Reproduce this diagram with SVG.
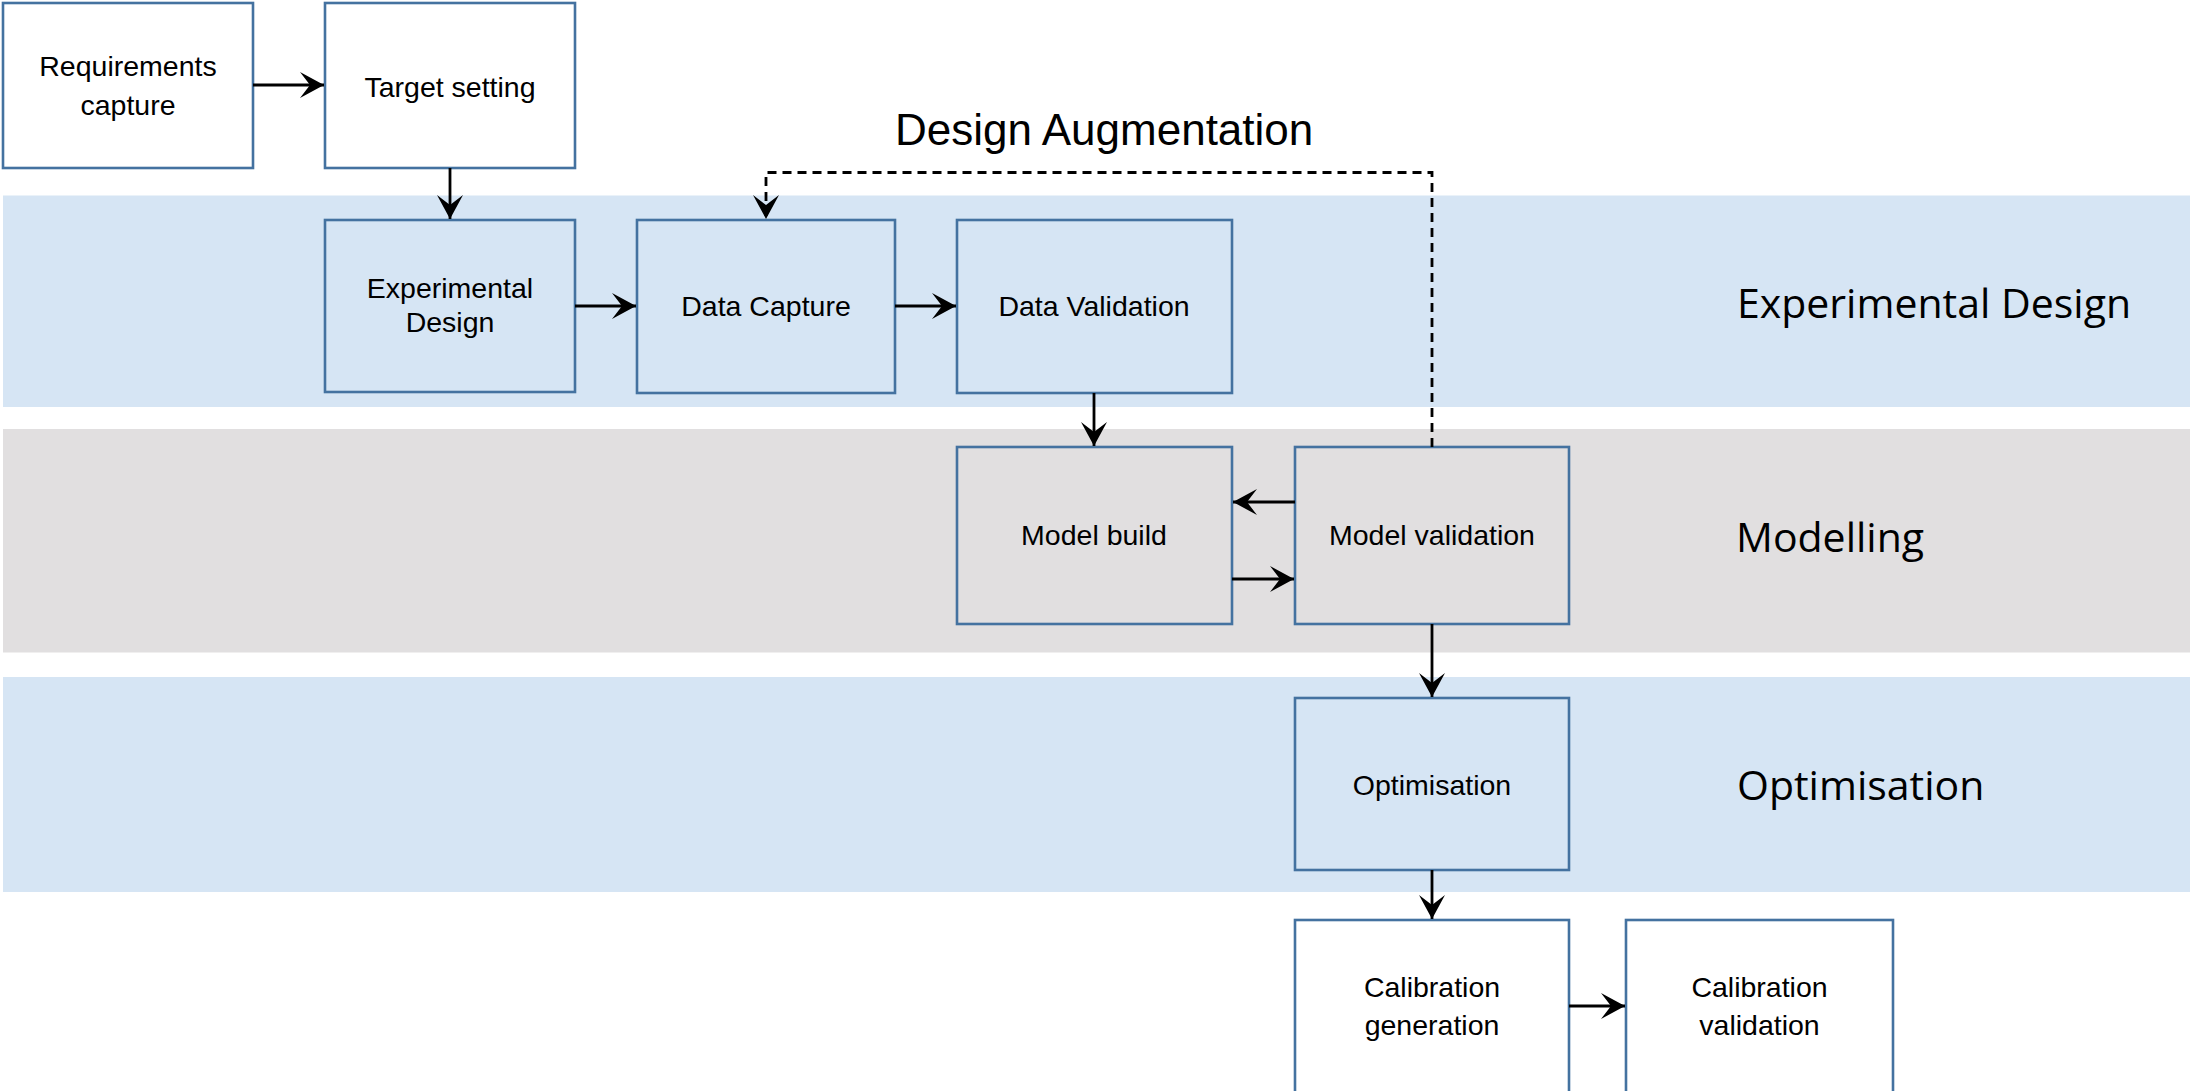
<svg xmlns="http://www.w3.org/2000/svg" width="2190" height="1091" viewBox="0 0 2190 1091">
<style>
.band-blue{fill:#D6E5F4}
.band-gray{fill:#E1DFE0}
.box{stroke:#4472A0;stroke-width:2.6}
.white{fill:#FFFFFF}
.blue{fill:#D6E5F4}
.gray{fill:#E1DFE0}
.t{font-family:"Liberation Sans",Arial,sans-serif;font-size:28.5px;fill:#000;text-anchor:middle}
.lane{font-family:"Open Sans","Liberation Sans",sans-serif;font-size:41px;fill:#000}
.conn{stroke:#000;stroke-width:2.8;fill:none}
.dash{stroke-dasharray:9,6}
</style>
<defs>
<marker id="arr" markerUnits="userSpaceOnUse" markerWidth="26" markerHeight="28" refX="24" refY="13" orient="auto" viewBox="0 0 26 28">
<path d="M0,0 L24,13 L0,26 L10,13 z" fill="#000"/>
</marker>
</defs>
<rect x="0" y="0" width="2190" height="1091" fill="#FFFFFF"/>
<g id="lanes">
<rect class="band-blue" x="3" y="195.5" width="2187" height="211.5"/>
<rect class="band-gray" x="3" y="429" width="2187" height="223.5"/>
<rect class="band-blue" x="3" y="677" width="2187" height="215"/>
<text class="lane" x="1737" y="318">Experimental Design</text>
<text class="lane" x="1736" y="552">Modelling</text>
<text class="lane" x="1737" y="800">Optimisation</text>
</g>
<g id="label-design-augmentation">
<text x="895" y="145" font-family="Liberation Sans, Arial, sans-serif" font-size="44" fill="#000">Design Augmentation</text>
</g>
<g id="requirements-capture">
<rect class="box white" x="3" y="3" width="250" height="165"/>
<text class="t" x="128" y="75.5">Requirements</text>
<text class="t" x="128" y="114.5">capture</text>
</g>
<g id="target-setting">
<rect class="box white" x="325" y="3" width="250" height="165"/>
<text class="t" x="450" y="96.5">Target setting</text>
</g>
<g id="experimental-design">
<rect class="box blue" x="325" y="220" width="250" height="172"/>
<text class="t" x="450" y="297.5" font-size="26.5">Experimental</text>
<text class="t" x="450" y="331.5" font-size="26.5">Design</text>
</g>
<g id="data-capture">
<rect class="box blue" x="637" y="220" width="258" height="173"/>
<text class="t" x="766" y="316">Data Capture</text>
</g>
<g id="data-validation">
<rect class="box blue" x="957" y="220" width="275" height="173"/>
<text class="t" x="1094" y="316">Data Validation</text>
</g>
<g id="model-build">
<rect class="box gray" x="957" y="447" width="275" height="177"/>
<text class="t" x="1094" y="545" font-size="28">Model build</text>
</g>
<g id="model-validation">
<rect class="box gray" x="1295" y="447" width="274" height="177"/>
<text class="t" x="1432" y="545" font-size="29.5">Model validation</text>
</g>
<g id="optimisation">
<rect class="box blue" x="1295" y="698" width="274" height="172"/>
<text class="t" x="1432" y="795" font-size="29.5">Optimisation</text>
</g>
<g id="calibration-generation">
<rect class="box white" x="1295" y="920" width="274" height="185"/>
<text class="t" x="1432" y="996.5">Calibration</text>
<text class="t" x="1432" y="1035">generation</text>
</g>
<g id="calibration-validation">
<rect class="box white" x="1626" y="920" width="267" height="185"/>
<text class="t" x="1759.5" y="996.5">Calibration</text>
<text class="t" x="1759.5" y="1035">validation</text>
</g>
<g id="connectors">
<line class="conn" x1="253" y1="85" x2="324" y2="85" marker-end="url(#arr)"/>
<line class="conn" x1="450" y1="168" x2="450" y2="219" marker-end="url(#arr)"/>
<line class="conn" x1="575" y1="306" x2="636" y2="306" marker-end="url(#arr)"/>
<line class="conn" x1="895" y1="306" x2="956" y2="306" marker-end="url(#arr)"/>
<line class="conn" x1="1094" y1="393" x2="1094" y2="446" marker-end="url(#arr)"/>
<line class="conn" x1="1295" y1="502" x2="1233" y2="502" marker-end="url(#arr)"/>
<line class="conn" x1="1232" y1="579" x2="1294" y2="579" marker-end="url(#arr)"/>
<line class="conn" x1="1432" y1="624" x2="1432" y2="697" marker-end="url(#arr)"/>
<line class="conn" x1="1432" y1="870" x2="1432" y2="919" marker-end="url(#arr)"/>
<line class="conn" x1="1569" y1="1006" x2="1625" y2="1006" marker-end="url(#arr)"/>
<polyline class="conn dash" points="1432,447 1432,172.5 766,172.5 766,219" marker-end="url(#arr)"/>
</g>
</svg>
